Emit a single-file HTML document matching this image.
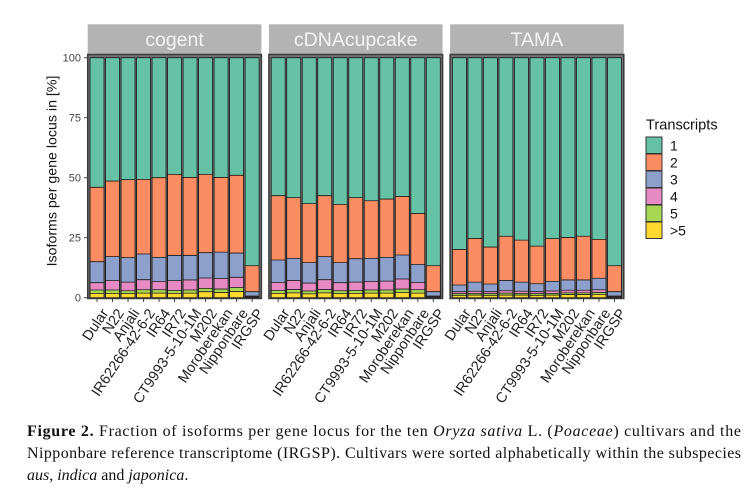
<!DOCTYPE html>
<html><head><meta charset="utf-8"><style>
html,body{margin:0;padding:0;background:#fff;}
svg{display:block;}
.c1{fill:#66C2A5}.c2{fill:#FC8D62}.c3{fill:#8DA0CB}.c4{fill:#E78AC3}.c5{fill:#A6D854}.c6{fill:#FFD92F}
.bars rect{stroke:#1a1a1a;stroke-width:0.8;vector-effect:non-scaling-stroke;}
.xl{font-family:"Liberation Sans",sans-serif;font-size:14.5px;fill:#222;}
</style></head><body>
<svg width="749" height="496" viewBox="0 0 749 496" xmlns="http://www.w3.org/2000/svg">
<rect width="749" height="496" fill="#fff"/>

<!-- strips -->
<rect x="87.7" y="24.3" width="173.7" height="29.7" fill="#b3b3b3"/>
<rect x="268.9" y="24.3" width="173.7" height="29.7" fill="#b3b3b3"/>
<rect x="450.1" y="24.3" width="173.7" height="29.7" fill="#b3b3b3"/>
<g font-family="Liberation Sans, sans-serif" font-size="19.5" fill="#f4f4f4" text-anchor="middle">
<text x="174.5" y="46">cogent</text>
<text x="355.7" y="46">cDNAcupcake</text>
<text x="536.9" y="46">TAMA</text>
</g>

<!-- panel backgrounds -->
<rect x="87.7" y="54.5" width="173.7" height="244" fill="#747474"/>
<rect x="268.9" y="54.5" width="173.7" height="244" fill="#747474"/>
<rect x="450.1" y="54.5" width="173.7" height="244" fill="#747474"/>

<!-- Panel 1: cogent -->
<g class="bars" transform="translate(87.7,297.7) scale(1,-2.4)">
<g transform="translate(2.33,0)"><rect class="c1" width="13.96" height="100"/><rect class="c2" width="13.96" height="46.0"/><rect class="c3" width="13.96" height="15.0"/><rect class="c4" width="13.96" height="6.25"/><rect class="c5" width="13.96" height="3.2"/><rect class="c6" width="13.96" height="1.8"/></g>
<g transform="translate(17.84,0)"><rect class="c1" width="13.96" height="100"/><rect class="c2" width="13.96" height="48.6"/><rect class="c3" width="13.96" height="17.1"/><rect class="c4" width="13.96" height="7.1"/><rect class="c5" width="13.96" height="3.2"/><rect class="c6" width="13.96" height="1.8"/></g>
<g transform="translate(33.35,0)"><rect class="c1" width="13.96" height="100"/><rect class="c2" width="13.96" height="49.2"/><rect class="c3" width="13.96" height="16.7"/><rect class="c4" width="13.96" height="6.5"/><rect class="c5" width="13.96" height="2.9"/><rect class="c6" width="13.96" height="1.7"/></g>
<g transform="translate(48.86,0)"><rect class="c1" width="13.96" height="100"/><rect class="c2" width="13.96" height="49.3"/><rect class="c3" width="13.96" height="18.2"/><rect class="c4" width="13.96" height="7.5"/><rect class="c5" width="13.96" height="3.3"/><rect class="c6" width="13.96" height="1.9"/></g>
<g transform="translate(64.37,0)"><rect class="c1" width="13.96" height="100"/><rect class="c2" width="13.96" height="50.0"/><rect class="c3" width="13.96" height="16.8"/><rect class="c4" width="13.96" height="6.8"/><rect class="c5" width="13.96" height="3.3"/><rect class="c6" width="13.96" height="1.9"/></g>
<g transform="translate(79.88,0)"><rect class="c1" width="13.96" height="100"/><rect class="c2" width="13.96" height="51.4"/><rect class="c3" width="13.96" height="17.6"/><rect class="c4" width="13.96" height="7.1"/><rect class="c5" width="13.96" height="3.0"/><rect class="c6" width="13.96" height="1.8"/></g>
<g transform="translate(95.39,0)"><rect class="c1" width="13.96" height="100"/><rect class="c2" width="13.96" height="50.1"/><rect class="c3" width="13.96" height="17.6"/><rect class="c4" width="13.96" height="7.4"/><rect class="c5" width="13.96" height="3.2"/><rect class="c6" width="13.96" height="1.9"/></g>
<g transform="translate(110.90,0)"><rect class="c1" width="13.96" height="100"/><rect class="c2" width="13.96" height="51.4"/><rect class="c3" width="13.96" height="18.75"/><rect class="c4" width="13.96" height="8.2"/><rect class="c5" width="13.96" height="3.9"/><rect class="c6" width="13.96" height="2.5"/></g>
<g transform="translate(126.41,0)"><rect class="c1" width="13.96" height="100"/><rect class="c2" width="13.96" height="50.1"/><rect class="c3" width="13.96" height="19.0"/><rect class="c4" width="13.96" height="8.0"/><rect class="c5" width="13.96" height="3.6"/><rect class="c6" width="13.96" height="2.2"/></g>
<g transform="translate(141.92,0)"><rect class="c1" width="13.96" height="100"/><rect class="c2" width="13.96" height="51.0"/><rect class="c3" width="13.96" height="18.6"/><rect class="c4" width="13.96" height="8.5"/><rect class="c5" width="13.96" height="4.2"/><rect class="c6" width="13.96" height="2.6"/></g>
<g transform="translate(157.43,0)"><rect class="c1" width="13.96" height="100"/><rect class="c2" width="13.96" height="13.3"/><rect class="c3" width="13.96" height="2.5"/><rect class="c4" width="13.96" height="0.7"/><rect class="c5" width="13.96" height="0.4"/><rect class="c6" width="13.96" height="0.15"/></g>
</g>

<!-- Panel 2: cDNAcupcake -->
<g class="bars" transform="translate(268.9,297.7) scale(1,-2.4)">
<g transform="translate(2.33,0)"><rect class="c1" width="13.96" height="100"/><rect class="c2" width="13.96" height="42.5"/><rect class="c3" width="13.96" height="15.7"/><rect class="c4" width="13.96" height="6.4"/><rect class="c5" width="13.96" height="3.0"/><rect class="c6" width="13.96" height="1.8"/></g>
<g transform="translate(17.84,0)"><rect class="c1" width="13.96" height="100"/><rect class="c2" width="13.96" height="41.7"/><rect class="c3" width="13.96" height="16.4"/><rect class="c4" width="13.96" height="7.2"/><rect class="c5" width="13.96" height="3.4"/><rect class="c6" width="13.96" height="2.0"/></g>
<g transform="translate(33.35,0)"><rect class="c1" width="13.96" height="100"/><rect class="c2" width="13.96" height="39.2"/><rect class="c3" width="13.96" height="14.6"/><rect class="c4" width="13.96" height="6.1"/><rect class="c5" width="13.96" height="2.8"/><rect class="c6" width="13.96" height="1.6"/></g>
<g transform="translate(48.86,0)"><rect class="c1" width="13.96" height="100"/><rect class="c2" width="13.96" height="42.5"/><rect class="c3" width="13.96" height="17.1"/><rect class="c4" width="13.96" height="7.5"/><rect class="c5" width="13.96" height="3.4"/><rect class="c6" width="13.96" height="2.0"/></g>
<g transform="translate(64.37,0)"><rect class="c1" width="13.96" height="100"/><rect class="c2" width="13.96" height="38.9"/><rect class="c3" width="13.96" height="14.6"/><rect class="c4" width="13.96" height="6.25"/><rect class="c5" width="13.96" height="2.9"/><rect class="c6" width="13.96" height="1.7"/></g>
<g transform="translate(79.88,0)"><rect class="c1" width="13.96" height="100"/><rect class="c2" width="13.96" height="41.7"/><rect class="c3" width="13.96" height="16.25"/><rect class="c4" width="13.96" height="6.5"/><rect class="c5" width="13.96" height="3.0"/><rect class="c6" width="13.96" height="1.8"/></g>
<g transform="translate(95.39,0)"><rect class="c1" width="13.96" height="100"/><rect class="c2" width="13.96" height="40.4"/><rect class="c3" width="13.96" height="16.4"/><rect class="c4" width="13.96" height="6.8"/><rect class="c5" width="13.96" height="3.2"/><rect class="c6" width="13.96" height="1.9"/></g>
<g transform="translate(110.90,0)"><rect class="c1" width="13.96" height="100"/><rect class="c2" width="13.96" height="41.1"/><rect class="c3" width="13.96" height="16.8"/><rect class="c4" width="13.96" height="6.9"/><rect class="c5" width="13.96" height="3.2"/><rect class="c6" width="13.96" height="1.9"/></g>
<g transform="translate(126.41,0)"><rect class="c1" width="13.96" height="100"/><rect class="c2" width="13.96" height="42.2"/><rect class="c3" width="13.96" height="17.8"/><rect class="c4" width="13.96" height="7.8"/><rect class="c5" width="13.96" height="3.6"/><rect class="c6" width="13.96" height="2.1"/></g>
<g transform="translate(141.92,0)"><rect class="c1" width="13.96" height="100"/><rect class="c2" width="13.96" height="35.1"/><rect class="c3" width="13.96" height="13.9"/><rect class="c4" width="13.96" height="6.4"/><rect class="c5" width="13.96" height="3.3"/><rect class="c6" width="13.96" height="1.9"/></g>
<g transform="translate(157.43,0)"><rect class="c1" width="13.96" height="100"/><rect class="c2" width="13.96" height="13.3"/><rect class="c3" width="13.96" height="2.5"/><rect class="c4" width="13.96" height="0.7"/><rect class="c5" width="13.96" height="0.4"/><rect class="c6" width="13.96" height="0.15"/></g>
</g>

<!-- Panel 3: TAMA -->
<g class="bars" transform="translate(450.1,297.7) scale(1,-2.4)">
<g transform="translate(2.33,0)"><rect class="c1" width="13.96" height="100"/><rect class="c2" width="13.96" height="20.1"/><rect class="c3" width="13.96" height="5.3"/><rect class="c4" width="13.96" height="2.5"/><rect class="c5" width="13.96" height="1.7"/><rect class="c6" width="13.96" height="1.0"/></g>
<g transform="translate(17.84,0)"><rect class="c1" width="13.96" height="100"/><rect class="c2" width="13.96" height="24.7"/><rect class="c3" width="13.96" height="6.5"/><rect class="c4" width="13.96" height="2.7"/><rect class="c5" width="13.96" height="1.8"/><rect class="c6" width="13.96" height="1.1"/></g>
<g transform="translate(33.35,0)"><rect class="c1" width="13.96" height="100"/><rect class="c2" width="13.96" height="21.1"/><rect class="c3" width="13.96" height="5.7"/><rect class="c4" width="13.96" height="2.5"/><rect class="c5" width="13.96" height="1.7"/><rect class="c6" width="13.96" height="1.0"/></g>
<g transform="translate(48.86,0)"><rect class="c1" width="13.96" height="100"/><rect class="c2" width="13.96" height="25.6"/><rect class="c3" width="13.96" height="7.2"/><rect class="c4" width="13.96" height="2.9"/><rect class="c5" width="13.96" height="1.9"/><rect class="c6" width="13.96" height="1.1"/></g>
<g transform="translate(64.37,0)"><rect class="c1" width="13.96" height="100"/><rect class="c2" width="13.96" height="24.0"/><rect class="c3" width="13.96" height="6.5"/><rect class="c4" width="13.96" height="2.7"/><rect class="c5" width="13.96" height="1.8"/><rect class="c6" width="13.96" height="1.1"/></g>
<g transform="translate(79.88,0)"><rect class="c1" width="13.96" height="100"/><rect class="c2" width="13.96" height="21.5"/><rect class="c3" width="13.96" height="5.8"/><rect class="c4" width="13.96" height="2.5"/><rect class="c5" width="13.96" height="1.7"/><rect class="c6" width="13.96" height="1.0"/></g>
<g transform="translate(95.39,0)"><rect class="c1" width="13.96" height="100"/><rect class="c2" width="13.96" height="24.6"/><rect class="c3" width="13.96" height="6.8"/><rect class="c4" width="13.96" height="2.8"/><rect class="c5" width="13.96" height="1.8"/><rect class="c6" width="13.96" height="1.1"/></g>
<g transform="translate(110.90,0)"><rect class="c1" width="13.96" height="100"/><rect class="c2" width="13.96" height="25.1"/><rect class="c3" width="13.96" height="7.4"/><rect class="c4" width="13.96" height="3.1"/><rect class="c5" width="13.96" height="2.0"/><rect class="c6" width="13.96" height="1.3"/></g>
<g transform="translate(126.41,0)"><rect class="c1" width="13.96" height="100"/><rect class="c2" width="13.96" height="25.6"/><rect class="c3" width="13.96" height="7.4"/><rect class="c4" width="13.96" height="3.1"/><rect class="c5" width="13.96" height="2.0"/><rect class="c6" width="13.96" height="1.3"/></g>
<g transform="translate(141.92,0)"><rect class="c1" width="13.96" height="100"/><rect class="c2" width="13.96" height="24.3"/><rect class="c3" width="13.96" height="8.1"/><rect class="c4" width="13.96" height="3.3"/><rect class="c5" width="13.96" height="2.2"/><rect class="c6" width="13.96" height="1.4"/></g>
<g transform="translate(157.43,0)"><rect class="c1" width="13.96" height="100"/><rect class="c2" width="13.96" height="13.3"/><rect class="c3" width="13.96" height="2.5"/><rect class="c4" width="13.96" height="0.7"/><rect class="c5" width="13.96" height="0.4"/><rect class="c6" width="13.96" height="0.15"/></g>
</g>

<!-- panel borders -->
<g fill="none" stroke="#3a3a3a" stroke-width="1.5">
<rect x="87.7" y="54.5" width="173.7" height="244"/>
<rect x="268.9" y="54.5" width="173.7" height="244"/>
<rect x="450.1" y="54.5" width="173.7" height="244"/>
</g>

<!-- y axis -->
<g stroke="#444" stroke-width="1">
<line x1="84" y1="297.7" x2="87.7" y2="297.7"/>
<line x1="84" y1="237.7" x2="87.7" y2="237.7"/>
<line x1="84" y1="177.7" x2="87.7" y2="177.7"/>
<line x1="84" y1="117.7" x2="87.7" y2="117.7"/>
<line x1="84" y1="57.7" x2="87.7" y2="57.7"/>
</g>
<g font-family="Liberation Sans, sans-serif" font-size="11" fill="#444" text-anchor="end">
<text x="81" y="301.6">0</text>
<text x="81" y="241.6">25</text>
<text x="81" y="181.6">50</text>
<text x="81" y="121.6">75</text>
<text x="81" y="61.6">100</text>
</g>
<text transform="translate(56.5,171) rotate(-90)" text-anchor="middle" font-family="Liberation Sans, sans-serif" font-size="14.2" fill="#111">Isoforms per gene locus in [%]</text>

<!-- x ticks -->
<g stroke="#444" stroke-width="1">
<line x1="97.01" y1="299" x2="97.01" y2="302"/><line x1="112.52" y1="299" x2="112.52" y2="302"/><line x1="128.03" y1="299" x2="128.03" y2="302"/><line x1="143.54" y1="299" x2="143.54" y2="302"/><line x1="159.05" y1="299" x2="159.05" y2="302"/><line x1="174.56" y1="299" x2="174.56" y2="302"/><line x1="190.07" y1="299" x2="190.07" y2="302"/><line x1="205.58" y1="299" x2="205.58" y2="302"/><line x1="221.09" y1="299" x2="221.09" y2="302"/><line x1="236.6" y1="299" x2="236.6" y2="302"/><line x1="252.11" y1="299" x2="252.11" y2="302"/>
<line x1="278.21" y1="299" x2="278.21" y2="302"/><line x1="293.72" y1="299" x2="293.72" y2="302"/><line x1="309.23" y1="299" x2="309.23" y2="302"/><line x1="324.74" y1="299" x2="324.74" y2="302"/><line x1="340.25" y1="299" x2="340.25" y2="302"/><line x1="355.76" y1="299" x2="355.76" y2="302"/><line x1="371.27" y1="299" x2="371.27" y2="302"/><line x1="386.78" y1="299" x2="386.78" y2="302"/><line x1="402.29" y1="299" x2="402.29" y2="302"/><line x1="417.8" y1="299" x2="417.8" y2="302"/><line x1="433.31" y1="299" x2="433.31" y2="302"/>
<line x1="459.41" y1="299" x2="459.41" y2="302"/><line x1="474.92" y1="299" x2="474.92" y2="302"/><line x1="490.43" y1="299" x2="490.43" y2="302"/><line x1="505.94" y1="299" x2="505.94" y2="302"/><line x1="521.45" y1="299" x2="521.45" y2="302"/><line x1="536.96" y1="299" x2="536.96" y2="302"/><line x1="552.47" y1="299" x2="552.47" y2="302"/><line x1="567.98" y1="299" x2="567.98" y2="302"/><line x1="583.49" y1="299" x2="583.49" y2="302"/><line x1="599" y1="299" x2="599" y2="302"/><line x1="614.51" y1="299" x2="614.51" y2="302"/>
</g>

<!-- x labels -->
<g class="xl" text-anchor="end">
<text transform="translate(109.01,313) rotate(-56)">Dular</text>
<text transform="translate(124.52,313) rotate(-56)">N22</text>
<text transform="translate(140.03,313) rotate(-56)">Anjali</text>
<text transform="translate(155.54,313) rotate(-56)">IR62266-42-6-2</text>
<text transform="translate(171.05,313) rotate(-56)">IR64</text>
<text transform="translate(186.56,313) rotate(-56)">IR72</text>
<text transform="translate(202.07,313) rotate(-56)">CT9993-5-10-1M</text>
<text transform="translate(217.58,313) rotate(-56)">M202</text>
<text transform="translate(233.09,313) rotate(-56)">Moroberekan</text>
<text transform="translate(248.6,313) rotate(-56)">Nipponbare</text>
<text transform="translate(264.11,313) rotate(-56)">IRGSP</text>

<text transform="translate(290.21,313) rotate(-56)">Dular</text>
<text transform="translate(305.72,313) rotate(-56)">N22</text>
<text transform="translate(321.23,313) rotate(-56)">Anjali</text>
<text transform="translate(336.74,313) rotate(-56)">IR62266-42-6-2</text>
<text transform="translate(352.25,313) rotate(-56)">IR64</text>
<text transform="translate(367.76,313) rotate(-56)">IR72</text>
<text transform="translate(383.27,313) rotate(-56)">CT9993-5-10-1M</text>
<text transform="translate(398.78,313) rotate(-56)">M202</text>
<text transform="translate(414.29,313) rotate(-56)">Moroberekan</text>
<text transform="translate(429.8,313) rotate(-56)">Nipponbare</text>
<text transform="translate(445.31,313) rotate(-56)">IRGSP</text>

<text transform="translate(471.41,313) rotate(-56)">Dular</text>
<text transform="translate(486.92,313) rotate(-56)">N22</text>
<text transform="translate(502.43,313) rotate(-56)">Anjali</text>
<text transform="translate(517.94,313) rotate(-56)">IR62266-42-6-2</text>
<text transform="translate(533.45,313) rotate(-56)">IR64</text>
<text transform="translate(548.96,313) rotate(-56)">IR72</text>
<text transform="translate(564.47,313) rotate(-56)">CT9993-5-10-1M</text>
<text transform="translate(579.98,313) rotate(-56)">M202</text>
<text transform="translate(595.49,313) rotate(-56)">Moroberekan</text>
<text transform="translate(611,313) rotate(-56)">Nipponbare</text>
<text transform="translate(626.51,313) rotate(-56)">IRGSP</text>
</g>

<!-- legend -->
<text x="646" y="129.5" font-family="Liberation Sans, sans-serif" font-size="14.6" fill="#111">Transcripts</text>
<g stroke="#333" stroke-width="1">
<rect class="c1" x="646" y="137" width="16" height="16.5"/>
<rect class="c2" x="646" y="154" width="16" height="16.5"/>
<rect class="c3" x="646" y="171" width="16" height="16.5"/>
<rect class="c4" x="646" y="188" width="16" height="16.5"/>
<rect class="c5" x="646" y="205" width="16" height="16.5"/>
<rect class="c6" x="646" y="222" width="16" height="16.5"/>
</g>
<g font-family="Liberation Sans, sans-serif" font-size="14" fill="#111">
<text x="670" y="150.3">1</text>
<text x="670" y="167.3">2</text>
<text x="670" y="184.3">3</text>
<text x="670" y="201.3">4</text>
<text x="670" y="218.3">5</text>
<text x="670" y="235.3">&gt;5</text>
</g>

<!-- caption -->
<g font-family="Liberation Serif, serif" font-size="16" fill="#111">
<text x="27" y="436" textLength="714" lengthAdjust="spacing"><tspan font-weight="bold">Figure 2.</tspan> Fraction of isoforms per gene locus for the ten <tspan font-style="italic">Oryza sativa</tspan> L. (<tspan font-style="italic">Poaceae</tspan>) cultivars and the</text>
<text x="27" y="458" textLength="714" lengthAdjust="spacing">Nipponbare reference transcriptome (IRGSP). Cultivars were sorted alphabetically within the subspecies</text>
<text x="27" y="480"><tspan font-style="italic">aus</tspan>, <tspan font-style="italic">indica</tspan> and <tspan font-style="italic">japonica</tspan>.</text>
</g>
</svg>
</body></html>
